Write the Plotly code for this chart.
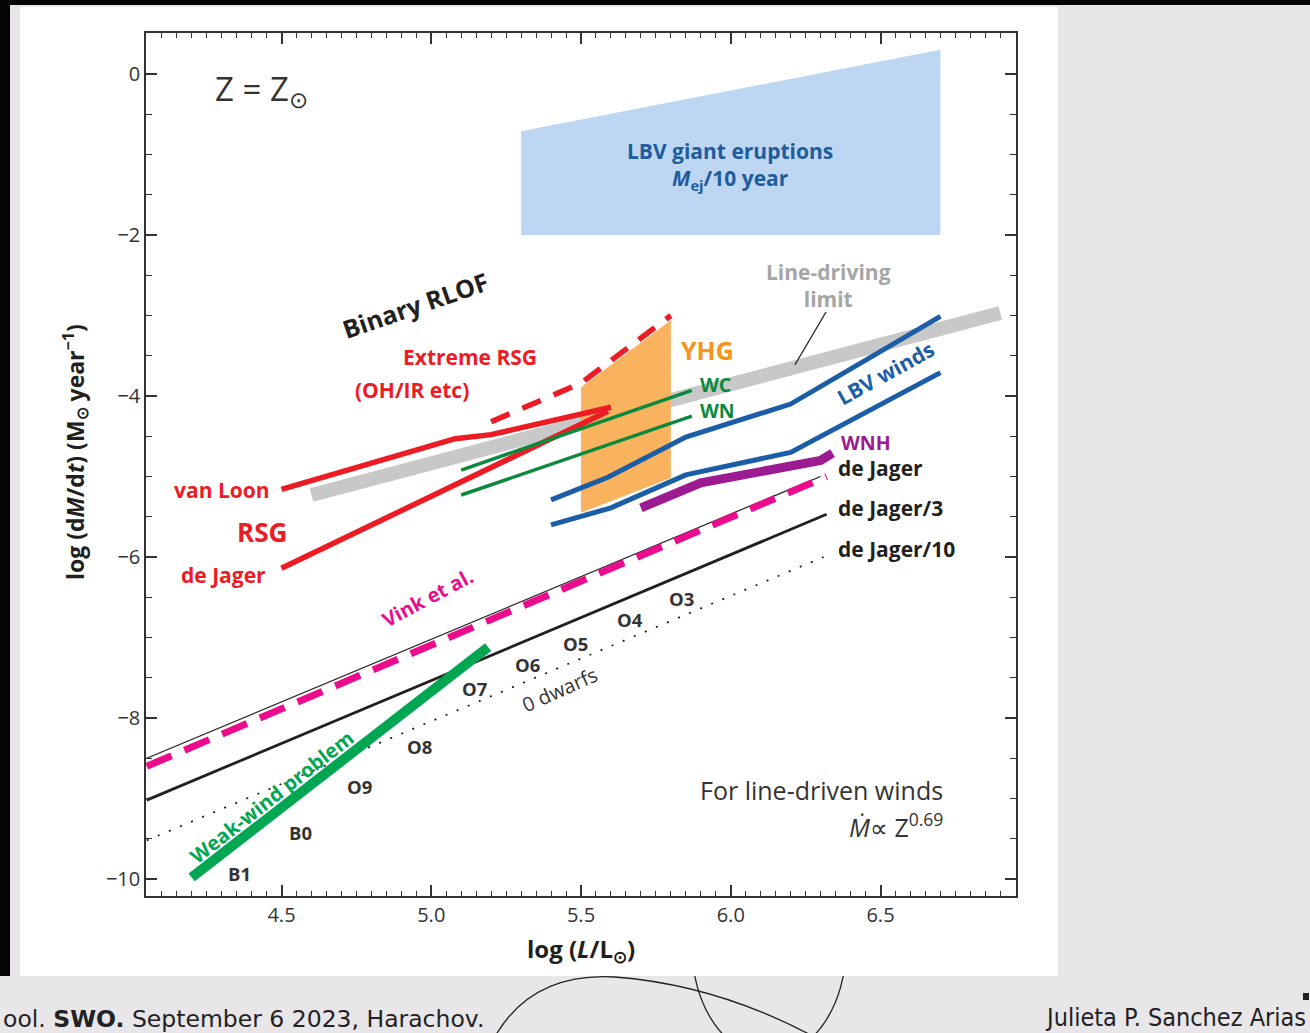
import plotly.graph_objects as go

# ---------------- data: log(L/Lsun) vs log(dM/dt) ----------------
lbv_erupt_x = [5.3, 5.3, 6.7, 6.7]
lbv_erupt_y = [-2.0, -0.71, 0.30, -2.0]

yhg_x = [5.5, 5.5, 5.8, 5.8]
yhg_y = [-5.45, -3.89, -3.06, -5.02]

line_limit_x = [4.6, 6.9]
line_limit_y = [-5.23, -2.97]

vanloon_x = [4.5, 5.08, 5.2, 5.6]
vanloon_y = [-5.16, -4.53, -4.48, -4.14]

rsg_dejager_x = [4.5, 5.09, 5.59]
rsg_dejager_y = [-6.14, -5.08, -4.19]

ext_rsg_x = [5.2, 5.5, 5.8]
ext_rsg_y = [-4.32, -3.84, -3.0]

wc_x = [5.1, 5.87]
wc_y = [-4.92, -3.93]
wn_x = [5.1, 5.87]
wn_y = [-5.23, -4.25]

lbv_hi_x = [5.4, 5.59, 5.85, 6.2, 6.7]
lbv_hi_y = [-5.29, -5.01, -4.51, -4.10, -3.01]
lbv_lo_x = [5.4, 5.6, 5.85, 6.2, 6.7]
lbv_lo_y = [-5.60, -5.39, -4.98, -4.70, -3.71]

wnh_x = [5.7, 5.9, 6.3, 6.34]
wnh_y = [-5.39, -5.08, -4.80, -4.71]

vink_x = [4.05, 6.32]
vink_y = [-8.6, -5.0]
dejager_x = [4.05, 6.3]
dejager_y = [-8.5, -5.0]
dejager3_x = [4.05, 6.32]
dejager3_y = [-9.02, -5.47]
dejager10_x = [4.05, 6.31]
dejager10_y = [-9.52, -6.0]

weak_x = [4.2, 5.19]
weak_y = [-9.98, -7.12]

spectral_types = ["O3", "O4", "O5", "O6", "O7", "O8", "O9", "B0", "B1"]
spectral_x = [5.834, 5.663, 5.480, 5.323, 5.143, 4.962, 4.762, 4.562, 4.361]
spectral_y = [-6.51, -6.78, -7.07, -7.34, -7.63, -8.35, -8.85, -9.42, -9.93]

x_tickvals = [4.5, 5.0, 5.5, 6.0, 6.5]
x_ticktext = ["4.5", "5.0", "5.5", "6.0", "6.5"]
y_tickvals = [0, -2, -4, -6, -8, -10]
y_ticktext = ["0", "\u22122", "\u22124", "\u22126", "\u22128", "\u221210"]

# ---------------- style ----------------
FONT = "Open Sans, Noto Sans, sans-serif"
RED = "#ED1C24"
GREEN = "#0B8A3E"
BLUE = "#1B5EA7"
PURPLE = "#9C1A92"
PINK = "#EC0B8D"
ORANGE = "#F9B35F"
DARK = "#231F20"

W, H = 1310, 1033
ML, MR, MT, MB = 146, 294, 33, 137


def px(x):
    return (x - ML) / (W - ML - MR)


def py(y):
    return (H - MB - y) / (H - MT - MB)


fig = go.Figure()


def poly(x, y, color):
    fig.add_trace(go.Scatter(x=x, y=y, fill="toself", fillcolor=color,
                             mode="lines", line=dict(width=0, color=color),
                             hoverinfo="skip"))


def line(x, y, color, width, dash="solid"):
    fig.add_trace(go.Scatter(x=x, y=y, mode="lines",
                             line=dict(color=color, width=width, dash=dash),
                             hoverinfo="skip"))


poly(lbv_erupt_x, lbv_erupt_y, "#BDD6F2")
line(line_limit_x, line_limit_y, "#C8C8C8", 14)
poly(yhg_x, yhg_y, ORANGE)

line(dejager10_x, dejager10_y, DARK, 1.8, "2px,10px")
line(dejager3_x, dejager3_y, DARK, 2.8)
line(dejager_x, dejager_y, DARK, 1.2)
line(vink_x, vink_y, PINK, 7, "27px,14px")
line(weak_x, weak_y, "#00A651", 10)

line(vanloon_x, vanloon_y, RED, 5.5)
line(rsg_dejager_x, rsg_dejager_y, RED, 5.5)
line(ext_rsg_x, ext_rsg_y, RED, 5.5, "20px,14px")
line(wc_x, wc_y, GREEN, 3.5)
line(wn_x, wn_y, GREEN, 3.5)
line(lbv_hi_x, lbv_hi_y, BLUE, 5)
line(lbv_lo_x, lbv_lo_y, BLUE, 5)
line(wnh_x, wnh_y, PURPLE, 9)

# ---------------- labels ----------------
ann = []


def label(x, y, text, color=DARK, size=18, bold=True, angle=0, xanchor="center",
          ref="data", family=FONT):
    t = f"<b>{text}</b>" if bold else text
    d = dict(x=x, y=y, text=t, showarrow=False, textangle=angle,
             xanchor=xanchor, yanchor="middle",
             font=dict(family=family, size=size, color=color))
    if ref == "data":
        d.update(xref="x", yref="y")
    else:
        d.update(xref="paper", yref="paper")
    ann.append(d)


label(4.271, -0.20, "Z = Z<sub>\u2299</sub>", color="#333333", size=33, bold=False,
      xanchor="left")
label(5.997, -1.14, "LBV giant eruptions<br><i>M</i><sub>ej</sub>/10 year",
      color="#1E5C9E", size=21)
label(4.946, -2.87, "Binary RLOF", size=25, angle=-19)
label(5.129, -3.516, "Extreme RSG", color=RED, size=21)
label(4.936, -3.925, "(OH/IR etc)", color=RED, size=21)
label(4.301, -5.168, "van Loon", color=RED, size=21)
label(4.435, -5.689, "RSG", color=RED, size=26)
label(4.308, -6.224, "de Jager", color=RED, size=21)
label(5.921, -3.429, "YHG", color="#F7941D", size=25)
label(5.890, -3.855, "WC", color=GREEN, size=19.5, xanchor="left")
label(5.890, -4.185, "WN", color=GREEN, size=19.5, xanchor="left")
label(6.325, -2.627, "Line-driving<br>limit", color="#A5A5A5", size=21)
label(6.518, -3.714, "LBV winds", color=BLUE, size=21, angle=-29)
label(6.360, -4.574, "WNH", color=PURPLE, size=19.5, xanchor="left")
label(6.352, -4.892, "de Jager", size=21, xanchor="left")
label(6.352, -5.396, "de Jager/3", size=21, xanchor="left")
label(6.352, -5.906, "de Jager/10", size=21, xanchor="left")
label(4.989, -6.509, "Vink et al.", color=PINK, size=20, angle=-28)
label(4.468, -8.969, "Weak-wind problem", color="#00A651", size=20, angle=-38)
label(5.430, -7.652, "0 dwarfs", color="#333333", size=20, bold=False, angle=-24)
label(6.715, -8.894, "For line-driven winds", color="#333333", size=25, bold=False,
      xanchor="right")
label(6.715, -9.329, "<i>\u1e40</i>\u221d Z<sup>0.69</sup>", color="#333333", size=25,
      bold=False, xanchor="right")
for s, sx, sy in zip(spectral_types, spectral_x, spectral_y):
    label(sx, sy, s, color="#333333", size=18.5)

# axis titles
label(0.5, py(950), "log (<i>L</i>/L<sub>\u2299</sub>)", size=24, ref="paper")
label(px(75), py(452),
      "log (d<i>M</i>/d<i>t</i>) (M<sub>\u2299</sub> year<sup>\u22121</sup>)",
      size=23, angle=-90, ref="paper")

# slide footer text
ann.append(dict(x=px(1), y=py(1019), xref="paper", yref="paper", xanchor="left",
                yanchor="middle", showarrow=False,
                text="ool. <b>SWO.</b> September 6 2023, Harachov.",
                font=dict(family="DejaVu Sans", size=23.5, color="#222222")))
ann.append(dict(x=px(1308), y=py(1017), xref="paper", yref="paper", xanchor="right",
                yanchor="middle", showarrow=False,
                text="Julieta P. Sanchez Arias",
                font=dict(family="DejaVu Sans Condensed, DejaVu Sans", size=25,
                          color="#222222")))

# ---------------- slide background & decorations ----------------
shapes = [
    dict(type="rect", xref="paper", yref="paper", x0=px(10), x1=px(W + 5),
         y0=py(5), y1=py(H + 5), fillcolor="#E8E6E8", line=dict(width=0), layer="below"),
    dict(type="rect", xref="paper", yref="paper", x0=px(-5), x1=px(12),
         y0=py(976), y1=py(H + 5), fillcolor="#E8E6E8", line=dict(width=0), layer="below"),
    dict(type="path", xref="paper", yref="paper", layer="below",
         path=(f"M {px(493)},{py(1040)} Q {px(530)},{py(972)} {px(615)},{py(977)} "
               f"Q {px(720)},{py(985)} {px(820)},{py(1040)}"),
         line=dict(color="#222222", width=1.3)),
    dict(type="circle", xref="paper", yref="paper", layer="below",
         x0=px(692), x1=px(846), y0=py(1056), y1=py(838),
         line=dict(color="#222222", width=1.3)),
    dict(type="rect", xref="paper", yref="paper", x0=px(20), x1=px(1058),
         y0=py(7), y1=py(976), fillcolor="white", line=dict(width=0), layer="below"),
    dict(type="rect", xref="paper", yref="paper", x0=px(1303), x1=px(1309),
         y0=py(993), y1=py(1000), fillcolor="#222222", line=dict(width=0), layer="below"),
    # pointer for the line-driving limit label
    dict(type="line", xref="x", yref="y", x0=6.318, y0=-2.957, x1=6.214, y1=-3.615,
         line=dict(color=DARK, width=1.3)),
]

axis_common = dict(showline=True, linecolor="#333333", linewidth=1.5, mirror="allticks",
                   ticks="inside", ticklen=11, tickwidth=1.5, tickcolor="#333333",
                   showgrid=False, zeroline=False,
                   tickfont=dict(family=FONT, size=20, color="#333333"))

fig.update_layout(
    width=W, height=H,
    margin=dict(l=ML, r=MR, t=MT, b=MB, pad=0),
    paper_bgcolor="#050505", plot_bgcolor="white",
    showlegend=False,
    xaxis=dict(range=[4.0476, 6.9524], tickvals=x_tickvals, ticktext=x_ticktext,
               minor=dict(dtick=0.05, tick0=4.0, ticks="inside", ticklen=5,
                          tickwidth=1.2, tickcolor="#333333"),
               **axis_common),
    yaxis=dict(range=[-10.211, 0.509], tickvals=y_tickvals, ticktext=y_ticktext,
               minor=dict(dtick=0.5, tick0=0, ticks="inside", ticklen=6,
                          tickwidth=1.4, tickcolor="#333333"),
               **axis_common),
    annotations=ann,
    shapes=shapes,
)

fig.write_html("out.html")
